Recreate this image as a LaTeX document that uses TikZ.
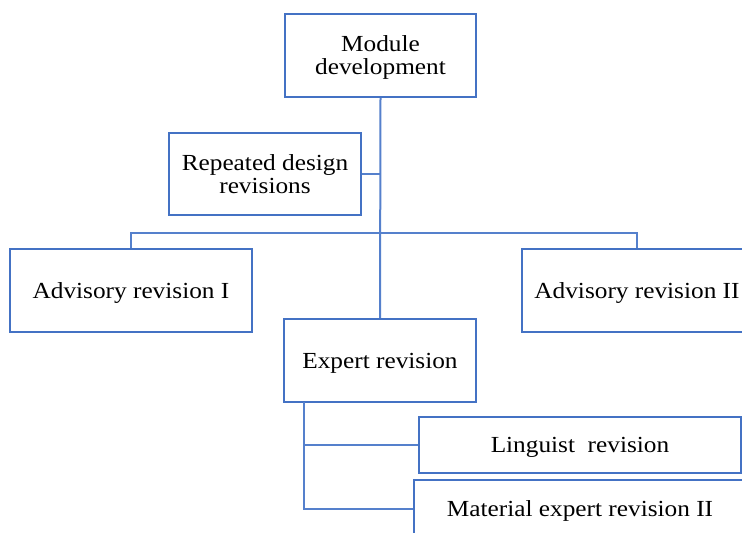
\documentclass[tikz,border=0pt]{standalone}
\usepackage{fontspec}
\setmainfont{Liberation Serif}[FakeStretch=1.1]
\definecolor{boxblue}{HTML}{4472C4}
\definecolor{lineblue}{HTML}{5580CC}
\tikzset{
  box/.style={draw=boxblue, line width=2.3pt, fill=white, align=center, inner sep=2pt,
    font=\fontsize{23}{23}\selectfont, text=black, text depth=0pt},
  conn/.style={draw=lineblue, line width=2pt},
}
\begin{document}
\begin{tikzpicture}[x=1pt,y=-1pt]
\useasboundingbox (0,0) rectangle (742,533);
\clip (0,0) rectangle (742,533);
\fill[white] (0,0) rectangle (742,533);
\node[box, minimum width=191pt, minimum height=83pt] (top) at (380.5,55.5) {Module\\development};
\node[box, minimum width=192pt, minimum height=82pt] (rep) at (265,174) {Repeated design\\revisions};
\node[box, minimum width=242pt, minimum height=83pt] (adv1) at (131,290.5) {Advisory revision I};
\node[box, minimum width=230pt, minimum height=83pt] (adv2) at (637,290.5) {Advisory revision II};
\node[box, minimum width=192pt, minimum height=83pt] (exp) at (380,360.5) {Expert revision};
\node[box, minimum width=322pt, minimum height=56pt] (ling) at (580,445) {Linguist\ \ revision};
\node[box, minimum width=332pt, minimum height=58pt] (mat) at (580,509) {Material expert revision II};
\coordinate (hub) at (380,233);
\coordinate (repj) at (380,174);
\coordinate (el) at (304,402);
\draw[conn] (top.south) -- (exp.north);
\draw[conn] (rep.east) -- (repj);
\draw[conn] (adv1.north) |- (hub) -| (adv2.north);
\draw[conn] (el) |- (ling.west);
\draw[conn] (el) |- (mat.west);
\end{tikzpicture}
\end{document}
